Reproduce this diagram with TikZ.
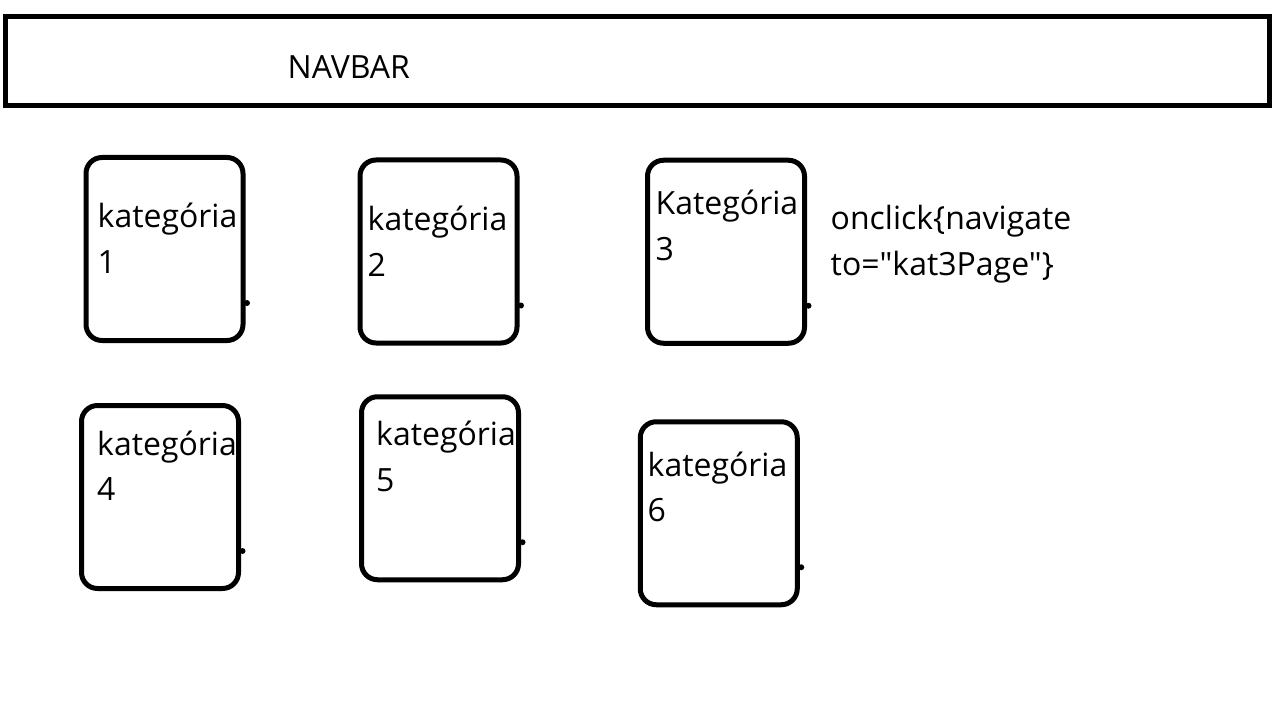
\documentclass[tikz,border=0pt]{standalone}
\usepackage{fontspec}
\setmainfont{Open Sans}[Ligatures=TeXOff]
\tikzset{
  katbox/.style={draw,line width=5pt,rounded corners=16pt,minimum width=157pt,minimum height=183pt,inner sep=0pt},
  kattext/.style={anchor=base west,inner sep=0pt,align=left,font=\fontsize{32}{45.5}\selectfont},
  knob/.style={fill=black}
}
\begin{document}
\begin{tikzpicture}[x=1pt,y=-1pt]
\useasboundingbox (0,0) rectangle (1276,719);
\node[draw,line width=5pt,minimum width=1264pt,minimum height=89pt,inner sep=0pt] (nav) at (637.5,61) {};
\node[kattext] (navtext) at (287.5,79) {NAVBAR};
% Kategorien
\node[katbox] (k1) at (164.5,249) {};
\node[katbox] (k2) at (438.5,251.5) {};
\node[katbox] (k3) at (726,251.75) {};
\node[katbox] (k4) at (160,497) {};
\node[katbox] (k5) at (440,488.25) {};
\node[katbox] (k6) at (718.75,513.25) {};
% base = Grundlinie der letzten Zeile
\node[kattext] (t1) at (97.5,273) {kategória\\1};
\node[kattext] (t2) at (367.5,276.2) {kategória\\2};
\node[kattext] (t3) at (655.5,260.5) {Kategória\\3};
\node[kattext] (t4) at (97,500.5) {kategória\\4};
\node[kattext] (t5) at (376,491.2) {kategória\\5};
\node[kattext] (t6) at (647.5,521.5) {kategória\\6};
\node[kattext] (click) at (830.5,275.5) {onclick\{navigate\\to="kat3Page"\}};
\foreach \k in {k1,k2,k3,k4,k5,k6}
  \fill[knob] ([xshift=1.5pt,yshift=40pt]\k.south east) circle (3pt);
\end{tikzpicture}
\end{document}
